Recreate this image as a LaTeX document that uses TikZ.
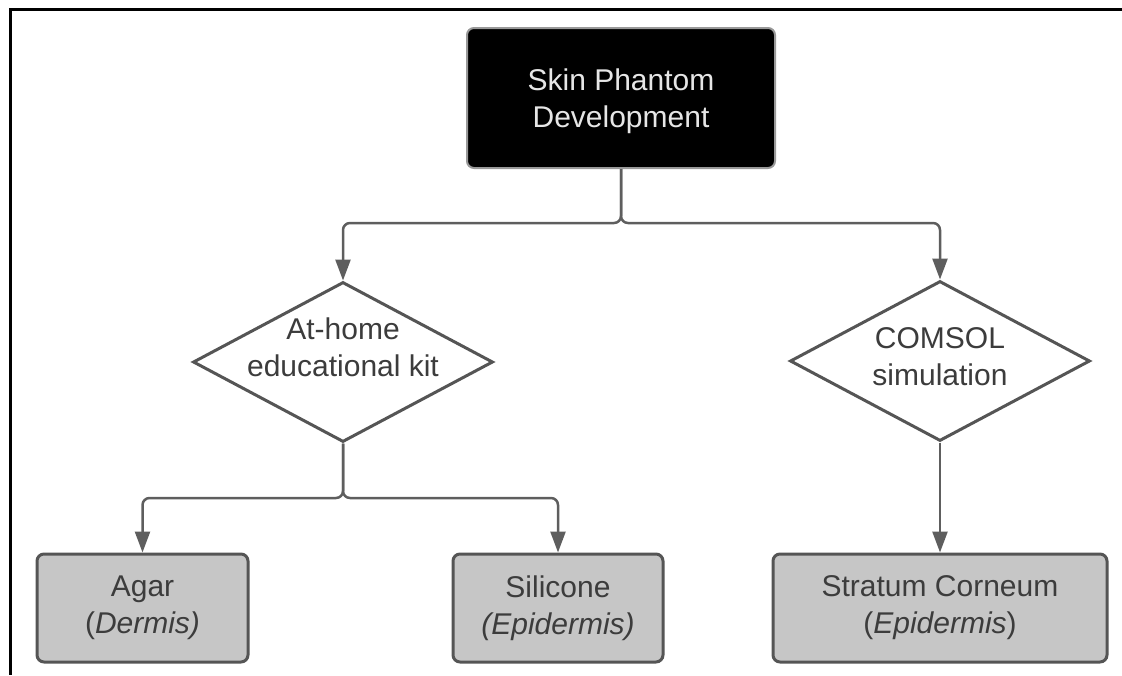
\documentclass[tikz,border=0pt]{standalone}
\usepackage{fontspec}
\setmainfont{Liberation Sans}
\usetikzlibrary{shapes.geometric,arrows.meta}

\definecolor{linegray}{HTML}{5E5E5E}
\definecolor{boxfill}{HTML}{C6C6C6}
\definecolor{boxedge}{HTML}{555555}
\definecolor{txtgray}{HTML}{3C3C3C}
\definecolor{roottxt}{HTML}{E6E6E6}

\begin{document}
\begin{tikzpicture}[x=1pt,y=-1pt,
  every node/.style={font=\fontsize{30}{37}\selectfont},
  rootbox/.style={draw=gray!80, line width=2pt, fill=black, rounded corners=7pt,
    minimum width=308pt, minimum height=140pt},
  roottext/.style={text=roottxt, align=center},
  leafbox/.style={draw=boxedge, line width=3pt, fill=boxfill, rounded corners=7pt,
    text=txtgray, minimum height=108pt, align=center, inner sep=0pt},
  choice/.style={diamond, draw=boxedge, line width=3pt, fill=white,
    minimum width=300pt, minimum height=160pt, inner sep=0pt},
  choicetext/.style={text=txtgray, align=center},
  link/.style={draw=linegray, line width=2.5pt, rounded corners=7pt,
    -{Triangle[length=21pt,width=15pt]}},
  frame/.style={draw=black, line width=3pt},
]
\useasboundingbox (0,0) rectangle (1122,675);

% page frame (top and left edges)
\draw[frame] (1122,9) -- (10,9) -- (10,675);

% root
\node[rootbox] (root) at (621,98) {};
\node[roottext] (roottitle) at (621,101) {Skin Phantom\\Development};

% decision diamonds
\node[choice] (kit) at (343,362) {};
\node[choicetext] (kittext) at (343,347) {At-home\\educational kit};
\node[choice] (sim) at (940,361) {};
\node[choicetext] (simtext) at (940,357) {COMSOL\\simulation};

% leaves
\node[leafbox, minimum width=211pt] (agar) at (142.5,608) {Agar\\(\textit{Dermis)}};
\node[leafbox, minimum width=210pt] (silicone) at (558,608) {Silicone\\\textit{(Epidermis)}};
\node[leafbox, minimum width=334pt] (stratum) at (940,608) {Stratum Corneum\\(\textit{Epidermis})};

% bus levels
\coordinate (topbus) at (0,223);
\coordinate (kitbus) at (0,498);

% connectors
\draw[link] (root.south) -- (root.south |- topbus) -- (kit.north |- topbus) -- (kit.north);
\draw[link] (root.south) -- (root.south |- topbus) -- (sim.north |- topbus) -- (sim.north);
\draw[link] (kit.south) -- (kit.south |- kitbus) -- (agar.north |- kitbus) -- (agar.north);
\draw[link] (kit.south) -- (kit.south |- kitbus) -- (silicone.north |- kitbus) -- (silicone.north);
\draw[link] (sim.south) -- (stratum.north);
\end{tikzpicture}
\end{document}
